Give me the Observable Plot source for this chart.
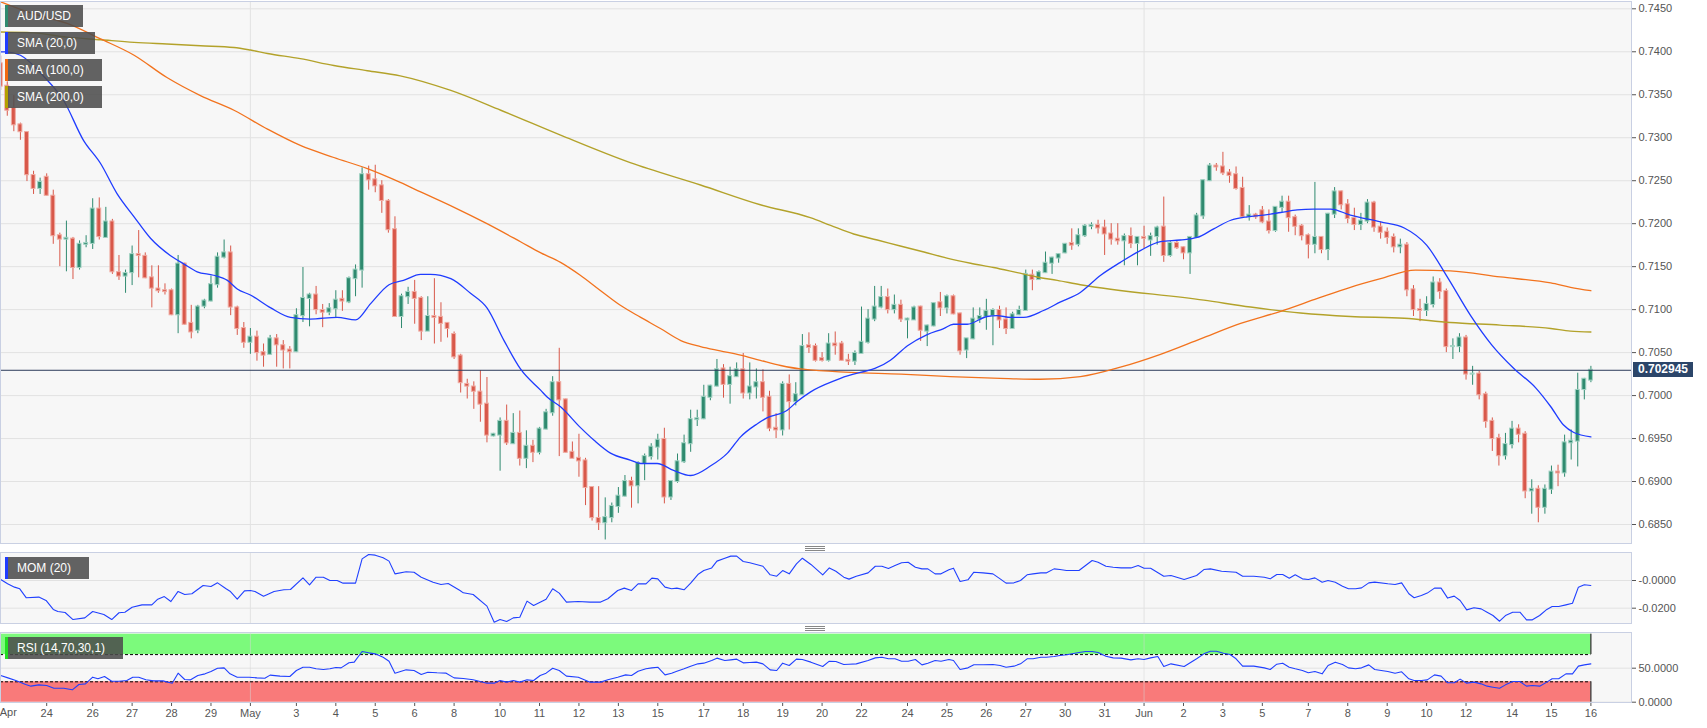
<!DOCTYPE html>
<html><head><meta charset="utf-8">
<script src="https://cdn.jsdelivr.net/npm/d3@7"></script>
<script src="https://cdn.jsdelivr.net/npm/@observablehq/plot@0.6"></script>
<style>
body{margin:0;background:#fff;font-family:"Liberation Sans",Arial,sans-serif;}
#wrap{position:relative;width:1707px;height:728px;overflow:hidden;background:#fff;}
.pane{position:absolute;left:0;}
.leg{position:absolute;left:5px;height:22px;line-height:22px;background:rgba(76,76,76,0.87);color:#fff;font-size:12px;box-sizing:border-box;border-left:3px solid;padding-left:9px;white-space:nowrap;}
.grip{position:absolute;width:20px;height:1px;background:#888;box-shadow:0 2px 0 #888,0 4px 0 #888;}
#plabel{position:absolute;left:1633px;width:60px;height:15px;line-height:15px;background:#2b4569;color:#fff;font-size:12px;font-weight:bold;text-align:center;}
</style></head>
<body><div id="wrap"></div>
<script>
// ---------- DATA ----------
const open = [.7386,.7360,.7334,.7315,.7306,.7256,.7241,.7254,.7232,.7186,
.7182,.7182,.7149,.7176,.7177,.7217,.7184,.7202,.7143,.7139,
.7143,.7164,.7162,.7137,.7124,.7122,.7122,.7094,.7153,.7084,
.7076,.7104,.7110,.7129,.7161,.7166,.7102,.7078,.7062,.7068,
.7050,.7048,.7066,.7058,.7053,.7051,.7093,.7113,.7117,.7099,
.7097,.7101,.7112,.7109,.7136,.7146,.7257,.7251,.7244,.7226,
.7193,.7092,.7115,.7120,.7113,.7075,.7092,.7091,.7084,.7071,
.7046,.7013,.7010,.7004,.6990,.6953,.6954,.6970,.6944,.6956,
.6927,.6941,.6934,.6961,.6980,.7015,.6995,.6934,.6927,.6924,
.6893,.6857,.6852,.6858,.6871,.6883,.6900,.6895,.6921,.6929,
.6940,.6949,.6882,.6900,.6923,.6944,.6972,.6973,.6998,.7011,
.7031,.7013,.7022,.7030,.7003,.7010,.7015,.6998,.6962,.6960,
.7013,.6993,.7001,.7058,.7057,.7043,.7041,.7060,.7060,.7041,
.7040,.7049,.7062,.7089,.7103,.7114,.7100,.7105,.7088,.7088,
.7103,.7075,.7081,.7108,.7102,.7115,.7095,.7053,.7066,.7089,
.7092,.7093,.7099,.7088,.7078,.7094,.7099,.7140,.7135,.7143,
.7154,.7160,.7166,.7177,.7176,.7186,.7197,.7198,.7195,.7188,
.7182,.7180,.7185,.7177,.7184,.7181,.7185,.7196,.7163,.7177,
.7172,.7166,.7184,.7209,.7250,.7267,.7266,.7259,.7257,.7241,
.7208,.7210,.7215,.7202,.7192,.7219,.7225,.7207,.7197,.7186,
.7176,.7184,.7170,.7211,.7237,.7222,.7206,.7199,.7203,.7224,
.7196,.7190,.7184,.7173,.7175,.7123,.7100,.7099,.7106,.7131,
.7121,.7057,.7057,.7067,.7025,.7025,.7001,.6970,.6950,.6930,
.6943,.6961,.6955,.6889,.6891,.6870,.6891,.6911,.6910,.6945,
.6947,.7007,.7018];
const high = [.7395,.7365,.7349,.7317,.7307,.7261,.7253,.7258,.7239,.7189,
.7203,.7184,.7180,.7186,.7229,.7230,.7219,.7205,.7163,.7146,
.7174,.7192,.7166,.7151,.7151,.7130,.7124,.7163,.7154,.7105,
.7105,.7112,.7139,.7166,.7181,.7174,.7104,.7085,.7078,.7075,
.7060,.7070,.7071,.7064,.7057,.7101,.7149,.7119,.7127,.7106,
.7107,.7122,.7122,.7138,.7152,.7265,.7267,.7268,.7250,.7228,
.7208,.7118,.7126,.7134,.7115,.7115,.7136,.7108,.7085,.7074,
.7048,.7019,.7016,.7029,.7021,.6956,.6974,.6989,.6979,.6982,
.6959,.6948,.6963,.6984,.7022,.7055,.6996,.6946,.6955,.6927,
.6894,.6894,.6881,.6875,.6893,.6907,.6905,.6923,.6932,.6944,
.6955,.6962,.6901,.6932,.6954,.6983,.6983,.7012,.7012,.7042,
.7036,.7033,.7038,.7049,.7038,.7031,.7030,.7005,.6979,.7016,
.7024,.7015,.7071,.7073,.7060,.7050,.7072,.7074,.7063,.7048,
.7052,.7103,.7100,.7127,.7127,.7124,.7117,.7111,.7090,.7104,
.7104,.7082,.7108,.7120,.7117,.7117,.7096,.7066,.7102,.7102,
.7112,.7101,.7104,.7102,.7097,.7104,.7146,.7146,.7145,.7167,
.7161,.7165,.7177,.7194,.7194,.7199,.7201,.7204,.7204,.7200,
.7200,.7188,.7195,.7185,.7197,.7189,.7197,.7231,.7179,.7180,
.7173,.7185,.7212,.7251,.7270,.7270,.7283,.7263,.7266,.7254,
.7221,.7212,.7220,.7216,.7219,.7232,.7232,.7210,.7199,.7188,
.7248,.7185,.7212,.7242,.7238,.7228,.7218,.7212,.7228,.7226,
.7202,.7195,.7188,.7182,.7178,.7128,.7112,.7115,.7138,.7136,
.7124,.7066,.7072,.7070,.7034,.7028,.7004,.6974,.6955,.6956,
.6970,.6966,.6958,.6902,.6895,.6896,.6918,.6919,.6954,.6960,
.7026,.7020,.7034];
const low = [.7355,.7325,.7307,.7297,.7249,.7234,.7234,.7232,.7176,.7150,
.7144,.7135,.7146,.7172,.7170,.7181,.7183,.7141,.7134,.7119,
.7128,.7137,.7136,.7102,.7119,.7117,.7093,.7072,.7082,.7066,
.7072,.7101,.7109,.7125,.7159,.7093,.7070,.7055,.7048,.7040,
.7033,.7047,.7033,.7031,.7031,.7050,.7085,.7080,.7094,.7079,
.7093,.7090,.7098,.7107,.7115,.7125,.7239,.7236,.7212,.7189,
.7092,.7078,.7106,.7083,.7064,.7075,.7060,.7062,.7067,.7042,
.7003,.6996,.6984,.6969,.6945,.6952,.6912,.6942,.6943,.6918,
.6915,.6922,.6931,.6960,.6976,.6929,.6933,.6927,.6905,.6872,
.6854,.6843,.6832,.6852,.6863,.6882,.6869,.6874,.6901,.6925,
.6925,.6874,.6878,.6898,.6921,.6934,.6964,.6972,.6994,.7010,
.6997,.6990,.7021,.6996,.6995,.6996,.6981,.6958,.6950,.6953,
.6960,.6988,.7001,.7049,.7039,.7039,.7039,.7047,.7040,.7035,
.7035,.7048,.7060,.7086,.7101,.7095,.7095,.7085,.7066,.7088,
.7063,.7057,.7080,.7092,.7095,.7094,.7047,.7043,.7065,.7084,
.7076,.7058,.7078,.7071,.7077,.7093,.7098,.7122,.7134,.7142,
.7141,.7154,.7165,.7169,.7173,.7184,.7193,.7188,.7163,.7175,
.7175,.7151,.7171,.7151,.7171,.7162,.7175,.7155,.7161,.7170,
.7158,.7141,.7183,.7205,.7249,.7261,.7256,.7247,.7239,.7206,
.7203,.7205,.7200,.7188,.7190,.7213,.7190,.7186,.7180,.7159,
.7165,.7165,.7157,.7206,.7216,.7200,.7192,.7192,.7200,.7190,
.7182,.7176,.7166,.7165,.7115,.7092,.7086,.7092,.7102,.7112,
.7050,.7042,.7050,.7018,.7012,.6995,.6962,.6935,.6918,.6925,
.6938,.6945,.6880,.6862,.6852,.6862,.6885,.6894,.6905,.6925,
.6917,.6995,.7015];
const close = [.7360,.7332,.7315,.7307,.7257,.7241,.7248,.7233,.7186,.7182,
.7183,.7149,.7176,.7177,.7217,.7185,.7202,.7144,.7139,.7142,
.7164,.7163,.7137,.7125,.7122,.7121,.7094,.7153,.7083,.7074,
.7103,.7110,.7129,.7161,.7166,.7103,.7078,.7062,.7068,.7050,
.7047,.7066,.7059,.7053,.7051,.7093,.7113,.7117,.7100,.7097,
.7101,.7111,.7110,.7136,.7146,.7257,.7251,.7244,.7227,.7193,
.7092,.7115,.7120,.7113,.7075,.7092,.7091,.7084,.7078,.7045,
.7015,.7011,.7005,.6990,.6954,.6955,.6970,.6945,.6956,.6927,
.6941,.6934,.6961,.6980,.7015,.6995,.6934,.6927,.6924,.6893,
.6858,.6852,.6858,.6871,.6883,.6900,.6895,.6921,.6929,.6940,
.6948,.6882,.6900,.6923,.6944,.6972,.6973,.6998,.7011,.7030,
.7013,.7022,.7030,.7003,.7010,.7015,.6998,.6962,.6960,.7013,
.6993,.7001,.7057,.7056,.7041,.7041,.7060,.7058,.7041,.7040,
.7049,.7062,.7089,.7103,.7114,.7100,.7105,.7089,.7089,.7102,
.7076,.7081,.7107,.7102,.7115,.7095,.7052,.7066,.7089,.7092,
.7098,.7099,.7088,.7078,.7094,.7099,.7141,.7135,.7143,.7154,
.7160,.7164,.7176,.7175,.7186,.7197,.7198,.7195,.7188,.7182,
.7180,.7185,.7177,.7184,.7183,.7185,.7195,.7163,.7177,.7172,
.7166,.7184,.7209,.7250,.7267,.7266,.7259,.7256,.7241,.7208,
.7210,.7208,.7202,.7192,.7219,.7225,.7207,.7197,.7186,.7176,
.7184,.7170,.7211,.7237,.7222,.7206,.7199,.7203,.7224,.7196,
.7190,.7184,.7173,.7175,.7123,.7100,.7099,.7106,.7131,.7121,
.7057,.7057,.7067,.7025,.7025,.7001,.6970,.6950,.6930,.6943,
.6961,.6955,.6889,.6891,.6870,.6891,.6911,.6910,.6945,.6947,
.7006,.7019,.702945];

const tickIdx = [0,7,14,20,26,32,38,45,51,57,63,69,76,82,88,94,100,107,113,119,125,131,138,144,150,156,162,168,174,180,186,192,199,205,211,217,223,230,236,242];
const tickLab = ["Apr","24","26","27","28","29","May","3","4","5","6","8","10","11","12","13","15","17","18","19","20","22","24","25","26","27","30","31","Jun","2","3","5","7","8","9","10","12","14","15","16"];
const monthIdx = [38,174];

const priceTicks = [0.685,0.690,0.695,0.700,0.705,0.710,0.715,0.720,0.725,0.730,0.735,0.740,0.745];
const momTicks = [0,-0.02];
const momTickLab = ["-0.0000","-0.0200"];
const rsiTicks = [0,50];
const rsiTickLab = ["0.0000","50.0000"];
const rsiUpper = 70, rsiLower = 30;

const sma20Idx = [0,0.8,3.0,6.6,9.6,12.6,15.2,17.7,20.3,22.8,25.8,27.9,29.9,32.4,34.5,36.0,38.0,41.1,44.1,47.1,51.2,54.0,56.3,59.1,61.3,63.9,65.4,68.5,71.5,74.0,76.6,79.1,82.2,83.2,85.2,88.2,90.3,92.8,95.8,97.4,99.9,102.4,105.0,108.0,110.6,112.6,115.1,116.6,119.7,121.2,123.2,127.8,135.4,138.0,141.0,143.5,145.0,147.1,150.1,151.6,153.7,155.7,158.7,161.3,164.3,167.4,170.4,173.5,176.5,179.5,182.1,184.6,187.2,189.7,192.2,194.8,197.3,199.8,202.4,205.4,210.0,213.6,217.0,220.3,223.7,226.9,230.2,233.6,235.9,237.8,239.4,242];
const sma20Val = [.7400,.7400,.7396,.7371,.7343,.7297,.7270,.7235,.7208,.7183,.7163,.7153,.7144,.7140,.7134,.7124,.7117,.7102,.7091,.7089,.7091,.7088,.7107,.7129,.7134,.7141,.7141,.7136,.7119,.7102,.7064,.7031,.7006,.6998,.6987,.6963,.6948,.6933,.6925,.6921,.6921,.6913,.6907,.6918,.6933,.6952,.6967,.6974,.6983,.6993,.7004,.7020,.7041,.7058,.7071,.7078,.7083,.7083,.7092,.7093,.7091,.7091,.7099,.7109,.7120,.7140,.7155,.7169,.7179,.7181,.7184,.7194,.7204,.7208,.7210,.7213,.7216,.7217,.7217,.7210,.7202,.7195,.7175,.7136,.7093,.7059,.7032,.7009,.6987,.6966,.6957,.6952];

const sma100Idx = [0,5.0,10.1,15.2,20.3,25.3,30.4,35.5,40.6,45.6,50.7,55.8,60.8,63.9,69.0,74.0,79.1,82.2,85.2,88.2,91.3,94.3,97.4,100.4,103.5,106.5,109.5,112.6,115.6,118.7,121.7,123.2,129.3,137.0,144.5,152.1,158.2,164.3,170.4,176.5,182.6,188.7,194.8,200.4,205.4,210.0,215.3,220.6,228.2,235.9,238.9,242];
const sma100Val = [.7458,.7444,.7433,.7415,.7396,.7370,.7349,.7332,.7310,.7291,.7277,.7264,.7248,.7237,.7219,.7200,.7179,.7166,.7155,.7140,.7122,.7105,.7091,.7078,.7064,.7057,.7052,.7047,.7041,.7035,.7031,.7030,.7027,.7025,.7022,.7020,.7019,.7022,.7033,.7048,.7066,.7084,.7098,.7113,.7126,.7136,.7146,.7145,.7138,.7131,.7126,.7122];

const sma200Idx = [0,5.0,10.1,15.2,20.3,25.3,30.4,35.5,38.0,40.6,45.6,50.7,55.8,60.8,68.5,76.1,85.2,95.8,106.5,115.6,123.2,126.3,129.8,133.4,136.9,140.5,144.0,147.6,151.1,154.7,157.7,160.8,164.3,183.1,190.2,197.8,205.4,213.6,220.6,228.2,235.9,238.9,242];
const sma200Val = [.7423,.7422,.7417,.7414,.7411,.7409,.7407,.7405,.7402,.7398,.7392,.7384,.7378,.7372,.7355,.7332,.7303,.7271,.7245,.7222,.7207,.7198,.7188,.7181,.7174,.7167,.7160,.7154,.7149,.7143,.7138,.7134,.7129,.7111,.7103,.7096,.7092,.7090,.7085,.7082,.7078,.7075,.7074];

const momIdx = [0,1.05,2.1,2.9,3.9,5.8,6.9,8.0,8.7,9.8,11.0,12.8,14.0,15.7,16.9,18.0,18.9,20.0,21.5,23.0,23.9,24.9,25.9,27.0,28.0,29.1,30.8,32.0,33.0,34.3,34.9,36.0,37.1,38.0,38.7,40.0,41.6,43.1,44.1,46.0,47.0,48.0,49.1,50.1,51.2,52.1,54.0,55.0,56.0,57.0,58.2,59.1,60.0,61.7,62.9,64.0,65.8,67.0,68.1,69.9,70.4,71.9,74.0,75.1,76.0,77.0,78.0,79.0,80.1,81.1,83.0,84.0,85.0,86.1,87.9,89.7,91.3,
92.4,93.9,94.9,96.0,97.0,98.2,99.1,100.0,101.1,102.1,102.9,104.0,105.0,106.1,107.0,108.2,109.0,110.2,111.1,112.0,113.0,114.0,115.0,116.0,117.1,118.1,119.0,120.0,121.1,122.0,123.3,125.1,126.1,127.1,128.3,129.1,130.2,132.0,133.1,134.1,135.1,136.1,137.1,138.1,139.2,140.2,141.1,142.2,143.1,144.3,145.0,146.0,147.2,148.1,149.5,151.0,152.1,153.0,154.2,155.2,156.2,157.1,158.3,159.1,160.3,161.2,162.2,164.1,165.1,166.1,167.0,168.2,169.3,170.5,172.0,173.1,174.0,
175.0,176.0,177.0,178.1,180.1,182.0,183.1,184.1,185.8,188.0,189.0,190.7,192.3,193.2,194.2,195.1,196.1,197.0,198.1,199.0,200.0,201.1,202.0,203.1,204.2,205.1,206.2,207.1,208.2,209.1,211.1,212.2,213.2,214.3,215.1,216.2,217.1,218.2,219.2,220.2,221.2,222.1,223.1,224.2,225.3,226.2,227.1,228.1,229.0,230.1,231.2,232.2,233.1,234.2,235.3,236.1,237.1,238.2,239.2,240.1,241.0,242];
const momVal = [0.0007,-0.0024,-0.0048,-0.0060,-0.0125,-0.0120,-0.0144,-0.0209,-0.0224,-0.0231,-0.0282,-0.0270,-0.0224,-0.0245,-0.0282,-0.0233,-0.0229,-0.0193,-0.0176,-0.0176,-0.0135,-0.0116,-0.0152,-0.0079,-0.0101,-0.0096,-0.0036,-0.0043,-0.0017,-0.0060,-0.0077,-0.0135,-0.0075,-0.0072,-0.0079,-0.0113,-0.0079,-0.0067,-0.0065,0.0019,-0.0031,0.0024,0.0024,0,0,-0.0019,-0.0019,0.0156,0.0188,0.0183,0.0164,0.0140,0.0048,0.0063,0.0060,0.0024,-0.0012,-0.0029,-0.0022,-0.0072,-0.0089,-0.0101,-0.0185,-0.0301,-0.0282,-0.0296,-0.0270,-0.0265,-0.0149,-0.0181,-0.0135,-0.0060,-0.0091,-0.0156,-0.0152,-0.0156,-0.0156,
-0.0132,-0.0072,-0.0055,-0.0072,-0.0024,-0.0024,0.0017,0.0012,-0.0048,-0.0060,-0.0055,-0.0067,-0.0019,0.0043,0.0072,0.0091,0.0140,0.0161,0.0176,0.0176,0.0137,0.0128,0.0116,0.0103,0.0041,0.0031,0.0072,0.0048,0.0120,0.0161,0.0116,0.0041,0.0091,0.0067,0.0024,0.0010,0.0031,0.0055,0.0103,0.0103,0.0087,0.0108,0.0128,0.0132,0.0096,0.0084,0.0084,0.0048,0.0048,0.0077,0.0089,-0.0007,0.0005,0.0060,0.0055,0.0048,0.0012,-0.0019,-0.0017,0,0.0041,0.0048,0.0055,0.0055,0.0084,0.0079,0.0072,0.0072,0.0108,0.0144,0.0132,0.0103,0.0096,0.0091,0.0091,0.0108,0.0089,
0.0089,0.0060,0.0031,0.0036,0.0007,0.0036,0.0079,0.0084,0.0067,0.0060,0.0031,0.0031,0.0024,0.0012,0.0043,0.0043,0.0017,0.0041,0.0012,0.0007,0.0019,-0.0012,0,-0.0012,-0.0041,-0.0060,-0.0060,-0.0053,-0.0017,-0.0012,-0.0024,-0.0029,-0.0017,-0.0096,-0.0125,-0.0108,-0.0091,-0.0055,-0.0055,-0.0127,-0.0113,-0.0144,-0.0212,-0.0197,-0.0205,-0.0229,-0.0253,-0.0294,-0.0253,-0.0229,-0.0229,-0.0284,-0.0284,-0.0253,-0.0209,-0.0188,-0.0188,-0.0176,-0.0164,-0.0048,-0.0031,-0.0036];

const rsiIdx = [0,1.1,2.3,3.8,4.6,5.8,7.0,8.1,9.6,10.9,11.9,12.9,14.0,14.8,15.8,16.9,18.0,19.2,20.1,21.0,22.1,23.3,24.7,26.1,27.0,28.0,28.9,30.0,31.1,32.0,33.0,34.0,34.9,36.0,37.8,39.0,40.2,41.0,42.5,44.0,45.0,46.0,47.0,48.0,49.1,50.1,51.0,51.8,53.0,53.8,55.0,56.0,57.0,58.2,59.1,60.0,61.7,62.9,64.0,65.0,66.4,67.8,69.0,70.4,71.9,74.0,75.1,76.0,77.0,78.0,79.0,80.1,81.1,82.1,83.0,84.0,85.0,86.1,87.9,89.7,91.3,
92.4,93.9,95.1,96.0,97.0,98.2,99.1,100.0,101.1,102.1,102.9,104.0,105.0,106.1,107.0,108.2,109.0,110.2,111.1,112.0,113.0,114.0,115.0,116.0,117.1,118.1,119.0,120.0,121.1,122.0,123.3,125.1,126.1,127.1,128.3,129.1,130.2,132.0,133.1,134.1,135.1,136.1,137.1,138.1,139.2,140.2,141.1,142.2,143.1,144.3,145.0,146.0,147.2,148.1,149.5,151.0,152.1,153.0,154.2,155.2,156.2,157.1,158.3,159.1,160.3,161.2,162.2,164.1,165.1,166.1,167.0,168.2,169.3,170.5,172.0,173.1,174.0,
175.0,176.1,177.0,178.1,180.1,182.0,183.1,184.1,185.0,186.1,187.1,188.0,189.0,190.7,192.3,193.2,194.2,195.1,196.1,197.0,198.1,199.0,200.0,201.1,202.0,203.1,204.2,205.1,206.2,207.1,208.2,209.1,211.1,212.2,213.2,214.3,215.1,216.2,217.1,218.2,219.2,220.2,221.2,222.1,223.1,224.2,225.3,226.2,227.1,228.1,229.0,230.1,231.2,232.2,233.1,234.2,235.3,236.1,237.1,238.2,239.2,240.1,241.0,242];
const rsiVal = [39.3,35.8,31.9,26.0,23.6,25.5,24.6,20.6,20.6,18.2,26.0,26.9,36.8,34.4,37.8,30.9,30.9,31.9,36.8,36.8,32.9,31.4,31.4,28.0,42.7,33.4,32.9,39.3,41.7,45.1,50.0,50.5,41.7,36.8,36.8,35.8,35.3,39.8,38.3,37.8,46.6,51.5,51.5,49.1,48.1,49.1,51.0,50.5,57.9,58.9,74.6,72.6,71.1,66.2,60.3,42.7,47.6,46.6,40.7,44.1,43.2,42.7,35.8,34.9,32.9,28.0,28.0,31.9,29.5,31.9,29.5,32.9,31.9,39.3,42.7,50.0,46.6,38.3,36.8,29.5,29.5,
32.9,36.8,40.2,39.3,45.6,49.1,50.5,51.5,40.2,42.7,45.6,49.1,53.0,56.4,57.4,61.3,64.8,61.3,62.3,63.3,57.9,58.4,58.9,56.4,47.6,46.6,57.4,54.0,63.3,62.8,58.9,52.5,60.3,59.9,55.4,55.9,56.4,61.3,65.2,66.2,63.8,63.8,60.3,60.3,62.8,54.9,57.4,61.3,60.3,62.8,61.3,48.1,50.5,55.0,55.0,55.4,54.0,51.5,53.0,56.4,63.8,63.8,66.2,66.2,67.2,68.7,69.7,73.1,74.6,74.6,73.1,67.7,65.2,64.8,62.3,63.8,62.8,
65.2,67.2,52.5,56.4,52.5,63.8,71.1,75.0,75.0,72.1,70.1,63.8,53.0,53.0,50.5,48.1,55.9,57.4,51.5,49.1,46.6,43.2,45.1,41.7,54.0,58.9,55.4,50.5,49.1,50.5,54.9,48.1,45.1,42.7,44.7,34.4,31.9,31.9,32.9,40.2,38.3,28.5,28.5,33.9,28.0,29.5,27.0,23.6,22.1,20.6,25.5,30.4,30.4,23.6,24.6,23.6,29.5,34.4,34.4,41.7,41.7,53.0,54.9,56.4];

// ---------- BUILD ----------
const UP = "#2f8a6f", DN = "#d8584a", UPL = "#a3d3c4", DNL = "#f0aca3";
const W = 1707, MR = 76;
const xDomain = [-0.03, 248.18];
const lastIdx = open.length - 1;
const lastPrice = close[lastIdx];
const candles = open.map((o, i) => ({i, o, h: high[i], l: low[i], c: close[i], up: close[i] >= o}));
const pts = (a, b) => a.map((d, k) => ({i: d, v: b[k]}));
const font = {fontFamily: "'Liberation Sans', Arial, sans-serif", fontSize: "11px", color: "#555", background: "transparent", overflow: "visible"};
const wrap = document.getElementById("wrap");
function place(svg, top) { const d = document.createElement("div"); d.className = "pane"; d.style.top = top + "px"; d.appendChild(svg); wrap.appendChild(d); }

const main = Plot.plot({
  width: W, height: 545, marginLeft: 0, marginRight: MR, marginTop: 1, marginBottom: 2,
  style: font,
  color: {type: "identity"},
  x: {domain: xDomain, axis: null},
  y: {domain: [0.68279, 0.74585], axis: "right", ticks: priceTicks, tickFormat: d3.format(".4f"), tickSize: 4, tickPadding: 3, label: null},
  marks: [
    Plot.frame({fill: "#f7f7f7"}),
    Plot.ruleY(priceTicks, {stroke: "#e2e2e2"}),
    Plot.ruleX(monthIdx, {stroke: "#e2e2e2"}),
    Plot.ruleX(candles, {x: "i", y1: "l", y2: "h", stroke: d => d.up ? UP : DN, strokeWidth: 1}),
    Plot.rect(candles, {x1: d => d.i - 0.3, x2: d => d.i + 0.3, y1: "o", y2: "c", insetTop: -0.5, insetBottom: -0.5,
      fill: d => d.up ? UP : DN, stroke: d => d.up ? UPL : DNL, strokeWidth: 1}),
    Plot.ruleY([lastPrice], {stroke: "#2b3b5a", strokeWidth: 1}),
    Plot.line(pts(sma200Idx, sma200Val), {x: "i", y: "v", stroke: "#b3a22a", strokeWidth: 1.4, curve: "monotone-x"}),
    Plot.line(pts(sma100Idx, sma100Val), {x: "i", y: "v", stroke: "#f2731e", strokeWidth: 1.3, curve: "monotone-x"}),
    Plot.line(pts(sma20Idx, sma20Val), {x: "i", y: "v", stroke: "#1f3cff", strokeWidth: 1.3, curve: "monotone-x"}),
    Plot.frame({stroke: "#c9d0e3"})
  ]
});
place(main, 0);

const mom = Plot.plot({
  width: W, height: 74, marginLeft: 0, marginRight: MR, marginTop: 1, marginBottom: 2,
  style: font,
  x: {domain: xDomain, axis: null},
  y: {domain: [-0.03105, 0.02022], axis: "right", ticks: momTicks, tickFormat: d => momTickLab[momTicks.indexOf(d)], tickSize: 4, tickPadding: 3, label: null},
  marks: [
    Plot.frame({fill: "#f7f7f7"}),
    Plot.ruleY(momTicks, {stroke: "#e2e2e2"}),
    Plot.ruleX(monthIdx, {stroke: "#e2e2e2"}),
    Plot.line(pts(momIdx, momVal), {x: "i", y: "v", stroke: "#2040ff", strokeWidth: 1.1}),
    Plot.frame({stroke: "#c9d0e3"})
  ]
});
place(mom, 551);

const labMap = new Map(tickIdx.map((d, k) => [d, tickLab[k]]));
const rsi = Plot.plot({
  width: W, height: 97, marginLeft: 0, marginRight: MR, marginTop: 1, marginBottom: 26,
  style: font,
  x: {domain: xDomain, axis: "bottom", ticks: tickIdx.slice(1), tickFormat: d => labMap.get(d), tickSize: 4, tickPadding: 3, label: null},
  y: {domain: [-0.44, 102.5], axis: "right", ticks: rsiTicks, tickFormat: d => rsiTickLab[rsiTicks.indexOf(d)], tickSize: 4, tickPadding: 3, label: null},
  marks: [
    Plot.frame({fill: "#f7f7f7"}),
    Plot.ruleY(rsiTicks, {stroke: "#e2e2e2"}),
    Plot.rect([{a: xDomain[0], b: lastIdx, y1: rsiUpper, y2: 100}], {x1: "a", x2: "b", y1: "y1", y2: "y2", fill: "#7cfa7c"}),
    Plot.rect([{a: xDomain[0], b: lastIdx, y1: 0, y2: rsiLower}], {x1: "a", x2: "b", y1: "y1", y2: "y2", fill: "#f97a7a"}),
    Plot.ruleX(monthIdx, {stroke: "#d8d8d8", strokeOpacity: 0.5}),
    Plot.ruleY([rsiUpper, rsiLower], {x1: xDomain[0], x2: lastIdx, stroke: "#000", strokeWidth: 1, strokeDasharray: "3,2"}),
    Plot.ruleX([lastIdx], {y1: rsiUpper, y2: 100, stroke: "#000"}),
    Plot.ruleX([lastIdx], {y1: 0, y2: rsiLower, stroke: "#000"}),
    Plot.line(pts(rsiIdx, rsiVal), {x: "i", y: "v", stroke: "#2040ff", strokeWidth: 1.1}),
    Plot.text([{i: tickIdx[0], t: tickLab[0]}], {x: "i", text: "t", frameAnchor: "bottom", dy: 13, dx: -1, textAnchor: "start", fill: "#555", fontSize: 11}),
    Plot.frame({stroke: "#c9d0e3"})
  ]
});
place(rsi, 631);

// legends
const legs = [
  {t: "AUD/USD", c: "#2f8a6f", top: 5, w: 78},
  {t: "SMA (20,0)", c: "#1f3cff", top: 32, w: 90},
  {t: "SMA (100,0)", c: "#f26a10", top: 59, w: 97},
  {t: "SMA (200,0)", c: "#b3a000", top: 86, w: 97},
  {t: "MOM (20)", c: "#1f3cff", top: 557, w: 84},
  {t: "RSI (14,70,30,1)", c: "#22dd22", top: 637, w: 118}
];
for (const l of legs) {
  const d = document.createElement("div");
  d.className = "leg"; d.textContent = l.t;
  d.style.top = l.top + "px"; d.style.width = l.w + "px"; d.style.borderColor = l.c;
  wrap.appendChild(d);
}
for (const t of [546, 626]) {
  const g = document.createElement("div"); g.className = "grip"; g.style.left = "805px"; g.style.top = t + "px"; wrap.appendChild(g);
}
// current price label via the plot's y scale
const ys = main.scale("y");
const yPix = ys.apply ? ys.apply(lastPrice) : d3.scaleLinear(ys.domain, ys.range)(lastPrice);
const pl = document.createElement("div");
pl.id = "plabel"; pl.textContent = d3.format(".6f")(lastPrice);
pl.style.top = (yPix - 7.5) + "px";
wrap.appendChild(pl);
</script>
</body></html>
